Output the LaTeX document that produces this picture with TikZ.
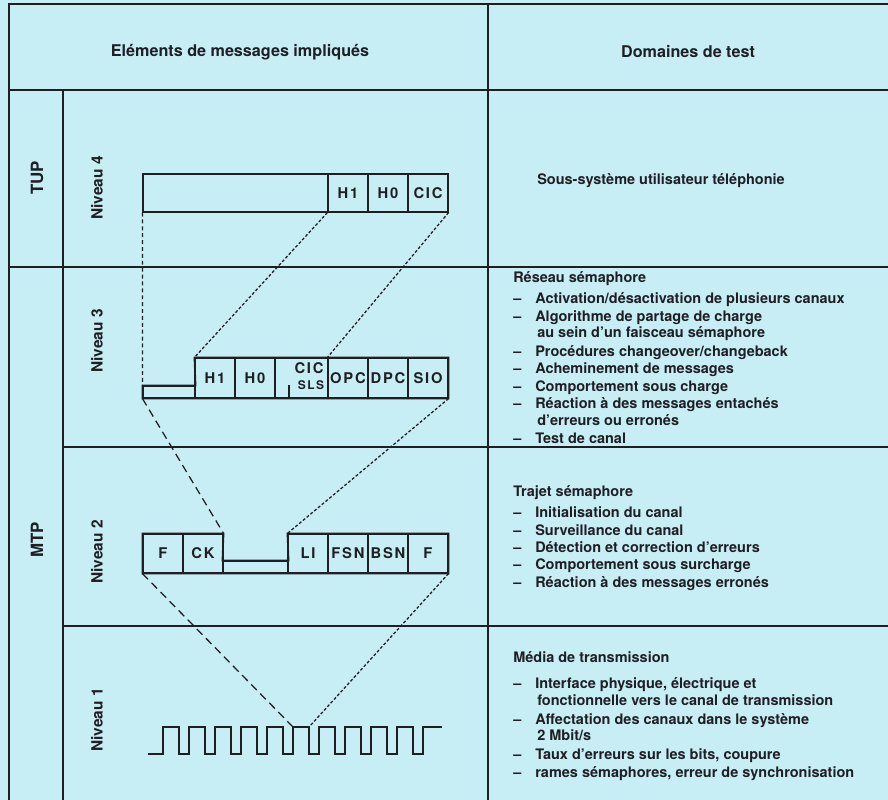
\documentclass[tikz,border=0pt]{standalone}
\usepackage{fontspec}
\setmainfont{TeX Gyre Heros}
\newfontfamily\cellfont[LetterSpace=12]{TeX Gyre Heros}
\usepackage{xcolor}
\usetikzlibrary{positioning}
\definecolor{fondcyan}{RGB}{200,238,245}
\definecolor{trait}{RGB}{30,30,35}
\newcommand{\tiret}{\makebox[0.55cm][l]{--}}

\begin{document}
\begin{tikzpicture}[x=0.025cm, y=-0.025cm,
  grille/.style={line width=1.4pt, draw=trait},
  boite/.style={line width=1.2pt, draw=trait},
  cell/.style={draw=trait, line width=0.8pt, minimum width=1cm, inner sep=0pt,
    font=\cellfont\bfseries\fontsize{10.5}{12}\selectfont, text=trait},
  tirets/.style={line width=0.9pt, draw=trait, dash pattern=on 2.8pt off 2.1pt},
  pointilles/.style={line width=0.9pt, draw=trait, dash pattern=on 2.1pt off 1.4pt},
  longtirets/.style={line width=0.9pt, draw=trait, dash pattern=on 5.7pt off 3.5pt},
  txt/.style={anchor=base west, inner sep=0pt, text=trait,
    font=\bfseries\fontsize{10.3}{12}\selectfont},
  titre/.style={inner sep=0pt, text=trait, font=\bfseries\fontsize{11.5}{14}\selectfont},
  rot/.style={rotate=90, inner sep=0pt, text=trait, font=\bfseries\fontsize{11}{13}\selectfont}]

% Fond et cadre
\fill[fondcyan] (0,0) rectangle (888,800);
\useasboundingbox (0,0) rectangle (888,800);
\draw[grille] (888,4) -- (9,4) -- (9,800);
\draw[grille] (9,90) -- (888,90);
\draw[grille] (488,4) -- (488,800);
\draw[grille] (63,90) -- (63,800);
\draw[grille] (9,267) -- (888,267);
\draw[grille] (63,447) -- (888,447);
\draw[grille] (63,626) -- (888,626);

% En-tetes
\node[titre] (tgauche) at (240,52) {Eléments de messages impliqués};
\node[titre] (tdroite) at (688,52) {Domaines de test};

% Colonnes de gauche
\node[rot, font=\bfseries\fontsize{12}{14}\selectfont] (tup) at (37,178) {TUP};
\node[rot, font=\bfseries\fontsize{12}{14}\selectfont] (mtp) at (37,540) {MTP};
\node[rot] (niv4) at (97,188) {Niveau 4};
\node[rot] (niv3) at (97,341) {Niveau 3};
\node[rot] (niv2) at (97,552) {Niveau 2};
\node[rot] (niv1) at (97,720) {Niveau 1};

% Niveau 4 - message TUP
\node[cell, minimum width=4.625cm, minimum height=0.95cm] (l4big) at (235.5,193) {};
\node[cell, minimum height=0.95cm] (l4h1) at (348,193) {H1};
\node[cell, minimum height=0.95cm] (l4h0) at (388,193) {H0};
\node[cell, minimum height=0.95cm] (l4cic) at (428,193) {CIC};
\draw[boite] (l4big.north west) rectangle (l4cic.south east);

% Niveau 3 - etiquette
\node[cell, minimum width=1.3cm, minimum height=0.3cm] (l3strip) at (169,392) {};
\node[cell, minimum height=1cm] (l3h1) at (215,378) {H1};
\node[cell, minimum height=1cm] (l3h0) at (255,378) {H0};
\node[cell, minimum width=1.325cm, minimum height=1cm] (l3cic) at (301.5,378) {};
\node[cell, minimum height=1cm] (l3opc) at (348,378) {OPC};
\node[cell, minimum height=1cm] (l3dpc) at (388,378) {DPC};
\node[cell, minimum height=1cm] (l3sio) at (428,378) {SIO};
\node[txt, anchor=center, font=\bfseries\fontsize{10.5}{12}\selectfont] (l3cictxt) at (309,368) {\cellfont CIC};
\node[txt, anchor=center, font=\bfseries\fontsize{8.5}{10}\selectfont] (l3sls) at (311,385) {\cellfont SLS};
\draw[trait, line width=0.8pt] (289,385) -- (l3cic.south west -| 289,0);
\draw[boite] (l3strip.north west) -- (l3strip.north east) -- (l3h1.north west)
  -- (l3sio.north east) -- (l3sio.south east) -- (l3strip.south west) -- cycle;

% Niveau 2 - trame
\node[cell, minimum height=0.975cm] (l2f1) at (163,553.5) {F};
\node[cell, minimum height=0.975cm] (l2ck) at (203,553.5) {CK};
\node[cell, minimum width=1.625cm, minimum height=0.3cm] (l2gap) at (255.5,567) {};
\node[cell, minimum height=0.975cm] (l2li) at (308,553.5) {LI};
\node[cell, minimum height=0.975cm] (l2fsn) at (348,553.5) {FSN};
\node[cell, minimum height=0.975cm] (l2bsn) at (388,553.5) {BSN};
\node[cell, minimum height=0.975cm] (l2f2) at (428,553.5) {F};
\draw[boite] (l2f1.north west) -- (l2ck.north east) -- (l2gap.north west)
  -- (l2gap.north east) -- (l2li.north west) -- (l2f2.north east)
  -- (l2f2.south east) -- (l2f1.south west) -- cycle;

% Niveau 1 - signal
\coordinate (pulsg) at (293,727);
\coordinate (pulsd) at (309,727);
\draw[trait, line width=1.3pt] (148,754) -- (163,754)
  \foreach \k in {0,...,9} { -- ++(0,-27) -- ++(16,0) -- ++(0,27) -- ++(10,0) }
  -- ++(0,-27) -- ++(19,0);

% Liaisons entre niveaux
\draw[tirets] (l4big.south west) -- (l3strip.north west);
\draw[pointilles] (l4h1.south west) -- (l3h1.north west);
\draw[pointilles] (l4cic.south east) -- (l3opc.north west);
\draw[longtirets] (l3strip.south west) -- (l2ck.north east);
\draw[pointilles] (l3sio.south east) -- (l2li.north west);
\draw[longtirets] (l2f1.south west) -- (pulsg);
\draw[pointilles] (l2f2.south east) -- (pulsd);

% Domaines de test - TUP
\node[txt] (dtup) at (537,185) {Sous-système utilisateur téléphonie};

% Reseau semaphore
\node[txt] (res0) at (513,283) {Réseau sémaphore};
\node[txt] (res1) at (513,304) {\tiret Activation/désactivation de plusieurs canaux};
\node[txt] (res2) at (513,321) {\tiret Algorithme de partage de charge};
\node[txt] (res3) at (537,338) {au sein d’un faisceau sémaphore};
\node[txt] (res4) at (513,356) {\tiret Procédures changeover/changeback};
\node[txt] (res5) at (513,373) {\tiret Acheminement de messages};
\node[txt] (res6) at (513,391) {\tiret Comportement sous charge};
\node[txt] (res7) at (513,408) {\tiret Réaction à des messages entachés};
\node[txt] (res8) at (537,425) {d’erreurs ou erronés};
\node[txt] (res9) at (513,443) {\tiret Test de canal};

% Trajet semaphore
\node[txt] (traj0) at (513,496) {Trajet sémaphore};
\node[txt] (traj1) at (513,517) {\tiret Initialisation du canal};
\node[txt] (traj2) at (513,535) {\tiret Surveillance du canal};
\node[txt] (traj3) at (513,552) {\tiret Détection et correction d’erreurs};
\node[txt] (traj4) at (513,569) {\tiret Comportement sous surcharge};
\node[txt] (traj5) at (513,587) {\tiret Réaction à des messages erronés};

% Media de transmission
\node[txt] (med0) at (513,662) {Média de transmission};
\node[txt] (med1) at (513,688) {\tiret Interface physique, électrique et};
\node[txt] (med2) at (537,705) {fonctionnelle vers le canal de transmission};
\node[txt] (med3) at (513,724) {\tiret Affectation des canaux dans le système};
\node[txt] (med4) at (537,740) {2 Mbit/s};
\node[txt] (med5) at (513,759) {\tiret Taux d’erreurs sur les bits, coupure};
\node[txt] (med6) at (513,777) {\tiret rames sémaphores, erreur de synchronisation};

\end{tikzpicture}
\end{document}
